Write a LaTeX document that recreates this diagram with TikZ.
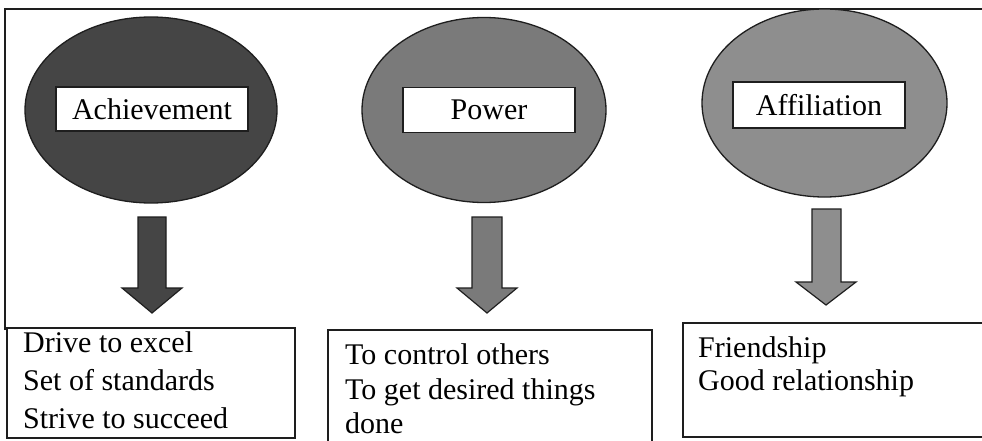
\documentclass[tikz,border=0pt]{standalone}
\usepackage{fontspec}
\setmainfont{Liberation Serif}
\usetikzlibrary{shapes.geometric}
\definecolor{gA}{HTML}{454545}
\definecolor{gB}{HTML}{7A7A7A}
\definecolor{gC}{HTML}{8E8E8E}
\definecolor{edge}{HTML}{1E1E1E}
\begin{document}
\begin{tikzpicture}[x=1pt,y=-1pt,
  blob/.style={ellipse,draw=edge,line width=1.3pt,inner sep=0pt},
  tag/.style={rectangle,draw=edge,fill=white,line width=1.1pt,inner sep=0pt,
    font=\fontsize{30}{34}\selectfont},
  panel/.style={draw=edge,line width=1.2pt,fill=white},
  txt/.style={anchor=base west,inner sep=0pt,font=\fontsize{30}{34}\selectfont},
  blk/.style={draw=edge,line width=1.2pt}]
\useasboundingbox (0,0) rectangle (982,441);
\fill[white] (0,0) rectangle (982,441);
% outer frame
\coordinate (fb) at (5,330);
\coordinate (ftl) at (5,9);
\coordinate (ftr) at (990,9);
\draw[edge,line width=1.3pt] (fb) -- (ftl) -- (ftr);
% ellipses
\node[blob,fill=gA,minimum width=252pt,minimum height=186pt] (e1) at (151,110) {};
\node[blob,fill=gB,minimum width=244pt,minimum height=185pt] (e2) at (484,110) {};
\node[blob,fill=gC,minimum width=245pt,minimum height=188pt] (e3) at (824.5,103) {};
% labels
\node[tag,minimum width=192pt,minimum height=44pt] (l1) at (152,109) {Achievement};
\node[tag,minimum width=172pt,minimum height=45pt] (l2) at (489,110) {Power};
\node[tag,minimum width=172pt,minimum height=46pt] (l3) at (819,105) {Affiliation};
% block arrows
\draw[blk,fill=gA] (138,217) -- (166,217) -- (166,288) -- (182,288) -- (152,313)
  -- (122,288) -- (138,288) -- cycle;
\draw[blk,fill=gB] (472,217) -- (502,217) -- (502,288) -- (517,288) -- (487,313)
  -- (457,288) -- (472,288) -- cycle;
\draw[blk,fill=gC] (812,209) -- (841,209) -- (841,282) -- (856,282) -- (826,305)
  -- (796,282) -- (812,282) -- cycle;
% boxes
\draw[panel] (7,328) rectangle (295,438);
\draw[panel] (328,330) rectangle (652,445);
\draw[panel] (683,323) rectangle (990,437);
% texts
\node[txt] (t11) at (23,352) {Drive to excel};
\node[txt] (t12) at (23,390) {Set of standards};
\node[txt] (t13) at (23,428) {Strive to succeed};
\node[txt] (t21) at (345,364) {To control others};
\node[txt] (t22) at (345,399) {To get desired things};
\node[txt] (t23) at (345,433) {done};
\node[txt] (t31) at (698,357) {Friendship};
\node[txt] (t32) at (698,390) {Good relationship};
\end{tikzpicture}
\end{document}
